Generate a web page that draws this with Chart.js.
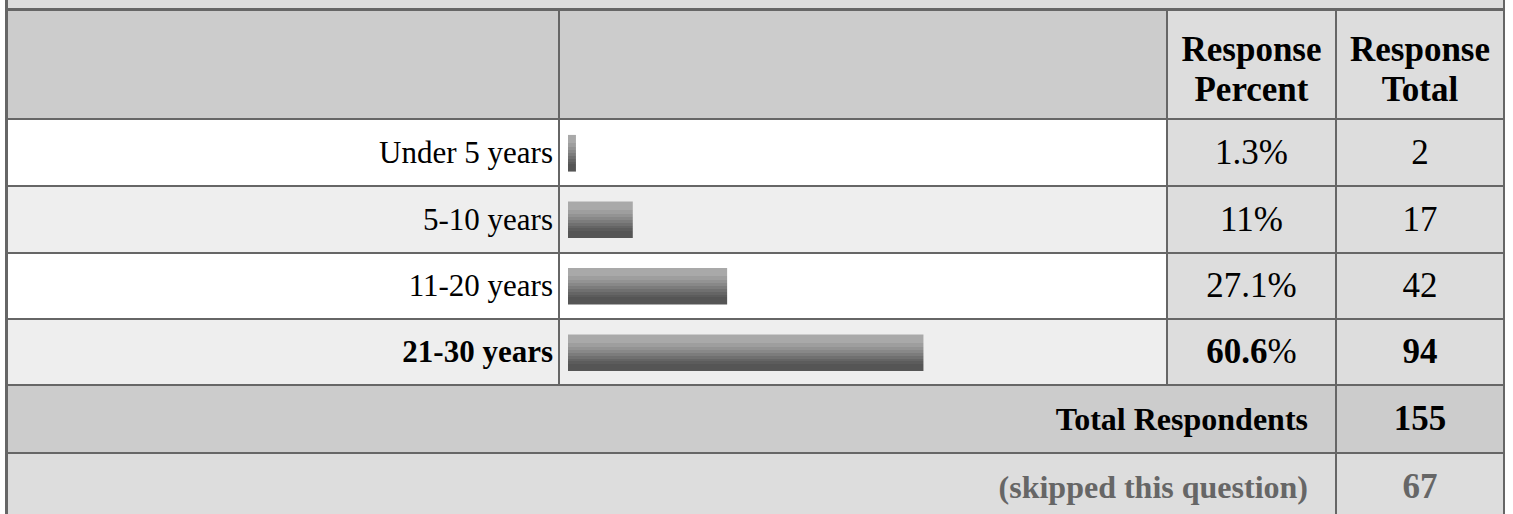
<!DOCTYPE html>
<html>
<head>
<meta charset="utf-8">
<script src="https://cdn.jsdelivr.net/npm/chart.js@4/dist/chart.umd.min.js"></script>
<style>
    body { margin: 0; background: #fff; font-family: "Liberation Serif", "Times New Roman", serif; font-size: 35px; color: #000; }
    #wrap { position: absolute; left: 5px; top: 0; width: 1500px; }
    .strip { height: 8px; background: #ddd; border-left: 3px solid #666; border-right: 2px solid #666; }
    table.res { border-collapse: separate; border-spacing: 0; border-left: 3px solid #666; border-top: 3px solid #666; table-layout: fixed; width: 1500px; }
    table.res td { border-right: 2px solid #666; border-bottom: 2px solid #666; padding: 0; }
    table.res .hd td { height: 99px; padding-bottom: 8px; background: #ccc; font-weight: bold; text-align: center; vertical-align: bottom; line-height: 40px; }
    table.res .hd td.lt { background: #ddd; }
    table.res td.lbl { text-align: right; padding-right: 5px; font-size: 31px; }
    table.res td.num { background: #ddd; text-align: center; }
    tr.odd td.lbl, tr.odd td.bar { background: #fff; }
    tr.even td.lbl, tr.even td.bar { background: #eee; }
    tr.top td.lbl, tr.top td.tot, tr.top b { font-weight: bold; }
    table.res .sum td { background: #ccc; font-weight: bold; text-align: right; padding-right: 27px; font-size: 32px; }
    table.res .skip td { background: #ddd; color: #666; font-weight: bold; text-align: right; padding-right: 27px; font-size: 32px; }
    table.res td.c { text-align: center; padding-right: 0; font-size: 35px; }
    #chartBox { position: absolute; left: 568px; top: 120px; width: 586px; height: 266px; }
</style>
</head>
<body>
<div id="wrap">
    <div class="strip"></div>
    <table class="res">
        <colgroup>
            <col style="width:552px"><col style="width:608px"><col style="width:169px"><col style="width:168px">
        </colgroup>
        <tbody id="rows">
            <tr class="hd">
                <td></td><td></td>
                <td class="lt">Response<br>Percent</td>
                <td class="lt">Response<br>Total</td>
            </tr>
        </tbody>
    </table>
</div>
<div id="chartBox"><canvas id="bars" width="586" height="266"></canvas></div>
<script>
// ===== Data =====
const categories = ["Under 5 years", "5-10 years", "11-20 years", "21-30 years"];
const percents = [1.3, 11, 27.1, 60.6];
const totals = [2, 17, 42, 94];
const rowHeights = [65, 65, 64, 64];
const totalRespondents = 155;
const skipped = 67;

// ===== Table rows =====
const tbody = document.getElementById("rows");
const topIdx = percents.indexOf(Math.max(...percents));
categories.forEach((cat, i) => {
    const tr = document.createElement("tr");
    tr.className = (i % 2 === 0 ? "odd" : "even") + (i === topIdx ? " top" : "");
    const pct = i === topIdx ? `<b>${percents[i]}</b>%` : `${percents[i]}%`;
    tr.innerHTML = `<td class="lbl" style="height:${rowHeights[i]}px">${cat}</td>`
        + `<td class="bar"></td>`
        + `<td class="num">${pct}</td>`
        + `<td class="num tot">${totals[i]}</td>`;
    tbody.appendChild(tr);
});
const sum = document.createElement("tr");
sum.className = "sum";
sum.innerHTML = `<td colspan="3" style="height:66px">Total Respondents</td><td class="c">${totalRespondents}</td>`;
tbody.appendChild(sum);
const sk = document.createElement("tr");
sk.className = "skip";
sk.innerHTML = `<td colspan="3" style="height:66px">(skipped this question)</td><td class="c">${skipped}</td>`;
tbody.appendChild(sk);

// ===== Bars =====
const BAR_H = 36;
const bands = [
    [0, "#a9a9a9"], [0.22, "#a9a9a9"], [0.22, "#9e9e9e"], [0.33, "#9e9e9e"], [0.33, "#939393"],
    [0.42, "#939393"], [0.42, "#888"], [0.5, "#888"], [0.5, "#7c7c7c"], [0.58, "#7c7c7c"],
    [0.58, "#707070"], [0.66, "#707070"], [0.66, "#656565"], [0.74, "#656565"], [0.74, "#5c5c5c"],
    [0.8, "#5c5c5c"], [0.8, "#555"], [1, "#555"]
];
function barFill(c) {
    const ys = c.chart.scales.y;
    if (!ys || c.dataIndex === undefined) return "#777";
    const cy = ys.getPixelForValue(c.dataIndex);
    if (!isFinite(cy)) return "#777";
    const g = c.chart.ctx.createLinearGradient(0, cy - BAR_H / 2, 0, cy + BAR_H / 2);
    bands.forEach(([p, col]) => g.addColorStop(p, col));
    return g;
}

new Chart(document.getElementById("bars"), {
    type: "bar",
    data: {
        labels: categories,
        datasets: [{ data: percents, backgroundColor: barFill, borderWidth: 0, barThickness: BAR_H }]
    },
    options: {
        indexAxis: "y",
        responsive: false,
        animation: false,
        layout: { padding: 0 },
        plugins: { legend: { display: false }, tooltip: { enabled: false } },
        scales: {
            x: { display: false, min: 0, max: 100 },
            y: { display: false }
        }
    }
});
</script>
</body>
</html>
